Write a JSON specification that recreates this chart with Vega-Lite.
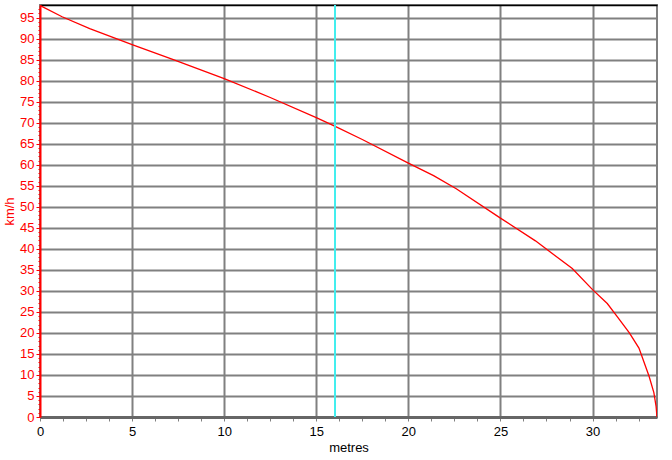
{
  "$schema": "https://vega.github.io/schema/vega-lite/v6.json",
  "width": 617,
  "height": 412,
  "autosize": {"type": "none"},
  "padding": {"left": 40, "top": 5, "right": 15, "bottom": 43},
  "background": "white",
  "config": {
    "view": {"stroke": "#808080", "strokeWidth": 2},
    "font": "Liberation Sans"
  },
  "data": {
    "values": [
      {"m": 0, "v": 97.9},
      {"m": 1.2, "v": 95.2},
      {"m": 2.7, "v": 92.4},
      {"m": 5, "v": 88.6},
      {"m": 7.24, "v": 85},
      {"m": 10, "v": 80.5},
      {"m": 12.5, "v": 76.0},
      {"m": 15, "v": 71.2},
      {"m": 16, "v": 69.2},
      {"m": 17.5, "v": 66.0},
      {"m": 20, "v": 60.4},
      {"m": 21.37, "v": 57.4},
      {"m": 22.6, "v": 54.3},
      {"m": 25, "v": 47.3},
      {"m": 26.9, "v": 41.9},
      {"m": 28.9, "v": 35.3},
      {"m": 30, "v": 30.3},
      {"m": 30.8, "v": 27.0},
      {"m": 31.34, "v": 23.9},
      {"m": 32.0, "v": 20.0},
      {"m": 32.52, "v": 16.4},
      {"m": 33.07, "v": 9.7},
      {"m": 33.33, "v": 5.8},
      {"m": 33.45, "v": 2.5},
      {"m": 33.5, "v": 0}
    ]
  },
  "resolve": {"axis": {"x": "independent"}},
  "layer": [
    {
      "mark": {"type": "line", "color": "#ff0000", "strokeWidth": 1.3, "clip": true},
      "encoding": {
        "x": {
          "field": "m", "type": "quantitative",
          "scale": {"domain": [0, 33.5], "nice": false, "zero": false},
          "axis": {
            "title": "metres",
            "titleFont": "Liberation Sans", "titleFontSize": 13, "titleFontWeight": "normal", "titleColor": "#000000",
            "titlePadding": 3,
            "values": [0, 1.25, 2.5, 3.75, 5, 6.25, 7.5, 8.75, 10, 11.25, 12.5, 13.75, 15, 16.25, 17.5, 18.75, 20, 21.25, 22.5, 23.75, 25, 26.25, 27.5, 28.75, 30, 31.25, 32.5],
            "labelExpr": "datum.value % 5 === 0 ? datum.label : ''",
            "labelFont": "Liberation Sans", "labelFontSize": 13, "labelColor": "#000000",
            "labelPadding": 4,
            "labelFlush": false,
            "labelOverlap": false,
            "domainColor": "#666666", "domainWidth": 3,
            "tickColor": "#808080", "tickSize": 4, "tickWidth": 1,
            "grid": true,
            "gridColor": "#808080", "gridWidth": 2,
            "gridOpacity": {"condition": {"test": "datum.value % 5 === 0 && datum.value > 0", "value": 1}, "value": 0}
          }
        },
        "y": {
          "field": "v", "type": "quantitative",
          "scale": {"domain": [0, 98], "nice": false},
          "axis": {
            "title": "km/h",
            "titleFont": "Liberation Sans", "titleFontSize": 13, "titleFontWeight": "normal", "titleColor": "#ff0000",
            "titlePadding": 3,
            "values": [0,1,2,3,4,5,6,7,8,9,10,11,12,13,14,15,16,17,18,19,20,21,22,23,24,25,26,27,28,29,30,31,32,33,34,35,36,37,38,39,40,41,42,43,44,45,46,47,48,49,50,51,52,53,54,55,56,57,58,59,60,61,62,63,64,65,66,67,68,69,70,71,72,73,74,75,76,77,78,79,80,81,82,83,84,85,86,87,88,89,90,91,92,93,94,95,96,97],
            "labelExpr": "datum.value % 5 === 0 ? datum.label : ''",
            "labelFont": "Liberation Sans", "labelFontSize": 13, "labelColor": "#ff0000",
            "labelPadding": 2,
            "labelOverlap": false,
            "labelFlush": false,
            "domainColor": "#ff0000", "domainWidth": 2,
            "tickColor": "#ff0000",
            "tickSize": {"condition": {"test": "datum.value % 5 === 0", "value": 4}, "value": 2},
            "tickWidth": 1,
            "grid": true,
            "gridColor": "#808080", "gridWidth": 2,
            "gridOpacity": {"condition": {"test": "datum.value % 5 === 0 && datum.value > 0", "value": 1}, "value": 0}
          }
        }
      }
    },
    {
      "mark": {"type": "rule", "color": "#44eeee", "strokeWidth": 1.2},
      "encoding": {
        "x": {
          "datum": 16,
          "axis": {"orient": "top", "title": null, "labels": false, "ticks": false, "grid": false, "domainColor": "#000000", "domainWidth": 1.5}
        }
      }
    }
  ]
}
